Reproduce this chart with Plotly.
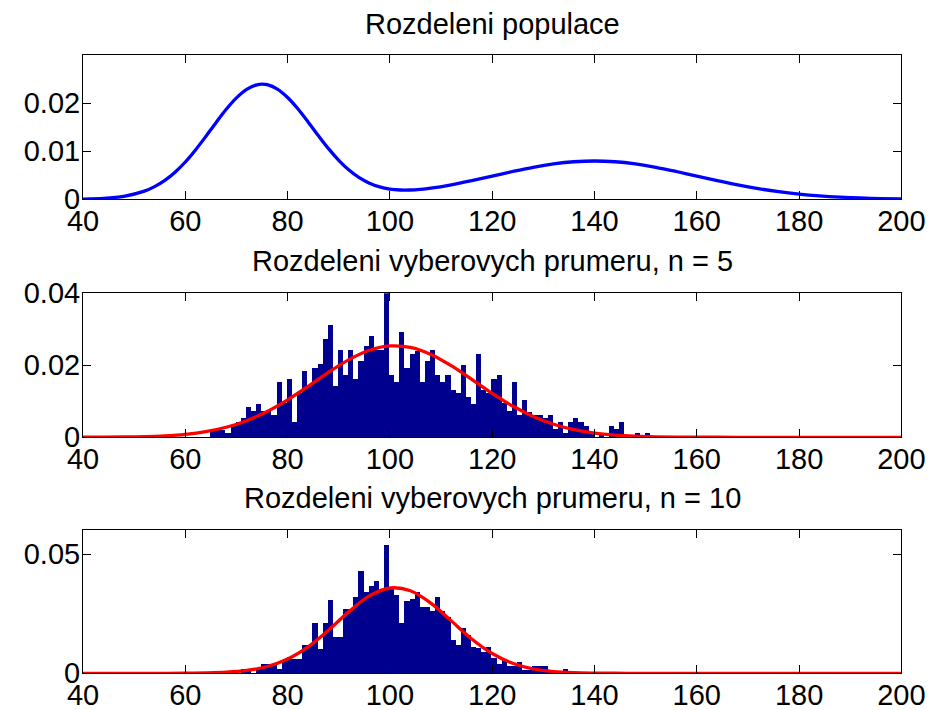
import plotly.graph_objects as go

# ---------------- data ----------------
population_x = [40, 44, 48, 52, 54, 56, 58, 60, 62, 64, 66, 68, 70, 72, 74, 75, 76, 78, 80, 82, 84, 86, 88,
                90, 92, 94, 96, 98, 100, 102, 104, 106, 108, 112, 116, 120, 124, 128, 132, 136, 140, 144,
                148, 152, 156, 160, 164, 168, 172, 176, 180, 184, 188, 192, 196, 200]
population_density = [0.00005, 0.0002, 0.00063, 0.0017, 0.00264, 0.00394, 0.00565, 0.00777, 0.01029, 0.01308,
                      0.01597, 0.01875, 0.02114, 0.02291, 0.02385, 0.02398, 0.02387, 0.02295, 0.02121, 0.01886,
                      0.01612, 0.01328, 0.01055, 0.00812, 0.00609, 0.0045, 0.00335, 0.00258, 0.00213, 0.00194,
                      0.00194, 0.00208, 0.00232, 0.00302, 0.00389, 0.00484, 0.00579, 0.00667, 0.00737, 0.00782,
                      0.00798, 0.00782, 0.00737, 0.00667, 0.00579, 0.00484, 0.00388, 0.00299, 0.00222, 0.00158,
                      0.00108, 0.00071, 0.00045, 0.00027, 0.00016, 0.00009]

fit_x = [40, 44, 48, 52, 56, 60, 64, 68, 72, 76, 80, 84, 88, 92, 96, 100, 104, 108, 112, 116, 120,
         124, 128, 132, 136, 140, 144, 148, 152, 156, 160, 164, 168, 172, 176, 180, 184, 188, 192, 196, 200]

normal_fit_n5 = [0.000013, 0.000035, 0.000085, 0.000194, 0.000416, 0.000837, 0.001577, 0.002785, 0.004608, 0.007148,
                 0.010386, 0.014139, 0.018043, 0.021572, 0.024171, 0.025379, 0.02497, 0.023022, 0.019889, 0.016102,
                 0.012217, 0.008684, 0.005785, 0.003611, 0.002113, 0.001159, 0.000595, 0.000286, 0.000129, 0.000055,
                 0.000022, 0.000008, 0.000003, 0.000001, 0.0, 0.0, 0.0, 0.0, 0.0, 0.0, 0.0]

normal_fit_n10 = [0.0, 0.0, 0.0, 0.000002, 0.00001, 0.000039, 0.000139, 0.000432, 0.001184, 0.002844,
                  0.006002, 0.011124, 0.0181, 0.025873, 0.032472, 0.035793, 0.03465, 0.02946, 0.021995, 0.014423,
                  0.008306, 0.004198, 0.001865, 0.000727, 0.000249, 0.000075, 0.00002, 0.000005, 0.0, 0.0,
                  0.0, 0.0, 0.0, 0.0, 0.0, 0.0, 0.0, 0.0, 0.0, 0.0, 0.0]

# histogram of sample means, n = 5 (bin centres and normalised heights)
bins_n5 = [65.35, 66.35, 67.35, 68.35, 69.35, 70.35, 71.35, 72.35, 73.35, 74.35,
           75.35, 76.35, 77.35, 78.35, 79.35, 80.35, 81.35, 82.35, 83.35, 84.35,
           85.35, 86.35, 87.35, 88.35, 89.35, 90.35, 91.35, 92.35, 93.35, 94.35,
           95.35, 96.35, 97.35, 98.35, 99.35, 100.35, 101.35, 102.35, 103.35, 104.35,
           105.35, 106.35, 107.35, 108.35, 109.35, 110.35, 111.35, 112.35, 113.35, 114.35,
           115.35, 116.35, 117.35, 118.35, 119.35, 120.35, 121.35, 122.35, 123.35, 124.35,
           125.35, 126.35, 127.35, 128.35, 129.35, 130.35, 131.35, 132.35, 133.35, 134.35,
           135.35, 136.35, 137.35, 138.35, 139.35, 140.35, 141.35, 142.35, 143.35, 144.35,
           145.35, 146.35, 147.35, 148.35, 149.35, 150.35]
heights_n5 = [0.002, 0.002, 0.002, 0.001, 0.003, 0.0043, 0.0053, 0.0082, 0.0071, 0.0092,
              0.0071, 0.0071, 0.0062, 0.0152, 0.0094, 0.0162, 0.0042, 0.0122, 0.0182, 0.0143,
              0.0192, 0.0203, 0.0272, 0.0312, 0.0141, 0.0241, 0.0171, 0.0241, 0.0162, 0.0212,
              0.0252, 0.0281, 0.0243, 0.0243, 0.0400, 0.0171, 0.0152, 0.0292, 0.0192, 0.0231,
              0.0238, 0.0152, 0.0212, 0.0241, 0.0173, 0.0152, 0.0171, 0.0131, 0.0122, 0.0201,
              0.0111, 0.0093, 0.0231, 0.0130, 0.0122, 0.0161, 0.0171, 0.0094, 0.0073, 0.0152,
              0.0062, 0.0102, 0.0069, 0.0062, 0.0061, 0.0053, 0.0061, 0.0022, 0.0042, 0.0011,
              0.0042, 0.0052, 0.0042, 0.0031, 0.0010, 0.0, 0.0010, 0.0, 0.0031, 0.0022,
              0.0042, 0.0, 0.0, 0.0011, 0.0, 0.0011]

# histogram of sample means, n = 10
bins_n10 = [70.35, 71.35, 72.35, 73.35, 74.35, 75.35, 76.35, 77.35, 78.35, 79.35,
            80.35, 81.35, 82.35, 83.35, 84.35, 85.35, 86.35, 87.35, 88.35, 89.35,
            90.35, 91.35, 92.35, 93.35, 94.35, 95.35, 96.35, 97.35, 98.35, 99.35,
            100.35, 101.35, 102.35, 103.35, 104.35, 105.35, 106.35, 107.35, 108.35, 109.35,
            110.35, 111.35, 112.35, 113.35, 114.35, 115.35, 116.35, 117.35, 118.35, 119.35,
            120.35, 121.35, 122.35, 123.35, 124.35, 125.35, 126.35, 127.35, 128.35, 129.35,
            130.35, 131.35, 132.35, 133.35, 134.35, 135.35]
heights_n10 = [0.0, 0.0017, 0.0008, 0.0, 0.0017, 0.0037, 0.0037, 0.0033, 0.0018, 0.0053,
               0.0069, 0.0058, 0.0058, 0.0118, 0.0118, 0.0208, 0.0100, 0.0208, 0.0308, 0.0150,
               0.0150, 0.0267, 0.0267, 0.0317, 0.0428, 0.0340, 0.0367, 0.0386, 0.0354, 0.0538,
               0.0354, 0.0326, 0.0208, 0.0303, 0.0311, 0.0338, 0.0278, 0.0278, 0.0260, 0.0317,
               0.0260, 0.0236, 0.0139, 0.0118, 0.0188, 0.0160, 0.0111, 0.0104, 0.0089, 0.0108,
               0.0063, 0.0039, 0.0056, 0.0028, 0.0028, 0.0047, 0.0011, 0.0011, 0.0028, 0.0028,
               0.0028, 0.0011, 0.0, 0.0, 0.0017, 0.0]

x_ticks = [40, 60, 80, 100, 120, 140, 160, 180, 200]
y_ticks_top = [0, 0.01, 0.02]
y_ticks_mid = [0, 0.02, 0.04]
y_ticks_bot = [0, 0.05]

titles = ["Rozdeleni populace",
          "Rozdeleni vyberovych prumeru, n = 5",
          "Rozdeleni vyberovych prumeru, n = 10"]

# ---------------- figure ----------------
OFF = 8                      # default page (body) margin of the browser
W, H = 943 - OFF, 710 - OFF  # figure size so the page fits the window
FONT = "Liberation Sans, Arial, Helvetica, sans-serif"
FS = 29
NAVY = "rgb(0,0,143)"

fig = go.Figure()

fig.add_trace(go.Scatter(x=population_x, y=population_density, mode="lines",
                         line=dict(color="rgb(0,0,255)", width=3.3, shape="spline", smoothing=0.8),
                         xaxis="x", yaxis="y", showlegend=False, hoverinfo="skip"))

fig.add_trace(go.Bar(x=bins_n5, y=heights_n5, width=1.0, marker=dict(color=NAVY, line=dict(width=0)),
                     xaxis="x2", yaxis="y2", showlegend=False))
fig.add_trace(go.Scatter(x=fit_x, y=normal_fit_n5, mode="lines",
                         line=dict(color="rgb(255,0,0)", width=3.3, shape="spline"),
                         xaxis="x2", yaxis="y2", showlegend=False, hoverinfo="skip"))

fig.add_trace(go.Bar(x=bins_n10, y=heights_n10, width=1.0, marker=dict(color=NAVY, line=dict(width=0)),
                     xaxis="x3", yaxis="y3", showlegend=False))
fig.add_trace(go.Scatter(x=fit_x, y=normal_fit_n10, mode="lines",
                         line=dict(color="rgb(255,0,0)", width=3.3, shape="spline"),
                         xaxis="x3", yaxis="y3", showlegend=False, hoverinfo="skip"))

# target pixel positions in the 943x710 window
x_dom = [(83 - OFF) / W, (901.4 - OFF) / W]
rows = [(55.3, 199.3), (293.3, 437.3), (530.3, 673.3)]
y_doms = [[1 - (b - OFF) / H, 1 - (t - OFF) / H] for (t, b) in rows]
y_ranges = [[0, 0.03], [0, 0.04], [0, 0.06]]
y_tick_sets = [y_ticks_top, y_ticks_mid, y_ticks_bot]

common_axis = dict(showline=True, linecolor="black", linewidth=1, mirror="ticks",
                   ticks="inside", ticklen=8, tickcolor="black", tickwidth=1,
                   showgrid=False, zeroline=False, automargin=False,
                   tickfont=dict(family=FONT, size=FS, color="black"))

layout = dict(width=W, height=H, paper_bgcolor="white", plot_bgcolor="white",
              margin=dict(l=0, r=0, t=0, b=0), bargap=0, showlegend=False)

for i in range(3):
    xs = "xaxis" if i == 0 else f"xaxis{i + 1}"
    ys = "yaxis" if i == 0 else f"yaxis{i + 1}"
    xa = "x" if i == 0 else f"x{i + 1}"
    ya = "y" if i == 0 else f"y{i + 1}"
    layout[xs] = dict(common_axis, domain=x_dom, range=[40, 200], tickmode="array",
                      tickvals=x_ticks, ticktext=[str(v) for v in x_ticks], anchor=ya,
                      ticklabelstandoff=-4)
    layout[ys] = dict(common_axis, domain=y_doms[i], range=y_ranges[i], tickmode="array",
                      tickvals=y_tick_sets[i], ticktext=[("%g" % v) for v in y_tick_sets[i]],
                      anchor=xa, ticklabelstandoff=-4)

fig.update_layout(**layout)

title_y_px = [24, 261, 498]
for t, ypx in zip(titles, title_y_px):
    fig.add_annotation(text=t, x=(x_dom[0] + x_dom[1]) / 2, y=1 - (ypx - OFF) / H, xref="paper", yref="paper",
                       xanchor="center", yanchor="middle", showarrow=False,
                       font=dict(family=FONT, size=FS, color="black"))

fig.write_html("out.html")
